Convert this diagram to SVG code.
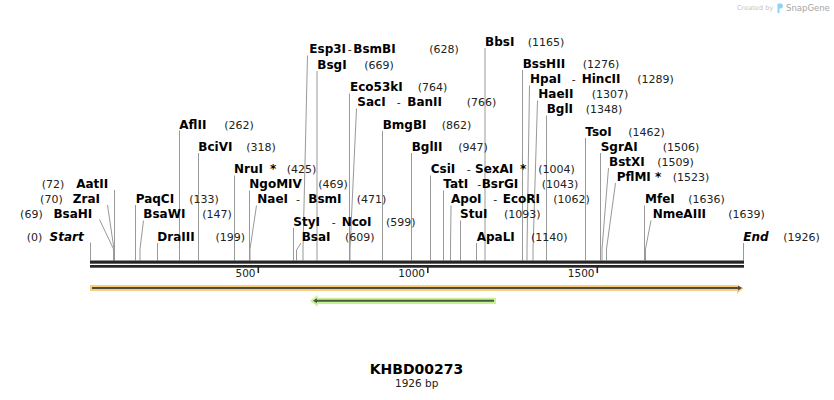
<svg xmlns="http://www.w3.org/2000/svg" width="834" height="400" viewBox="0 0 834 400">
<style>
text{font-family:"DejaVu Sans","Liberation Sans",sans-serif}
.n{font-size:12px;font-weight:bold;fill:#000}
.it{font-style:italic}
.p{font-size:11px;fill:#222}
.c{fill:none;stroke:#999;stroke-width:1}
.tk{font-size:10.5px;fill:#222}
</style>
<rect width="834" height="400" fill="#fff"/>
<g id="watermark">
<text x="737" y="10" style="font-size:6.6px;fill:#c4c4c4">Created by</text>
<path d="M777.5 3.5 h3 a2.5 2.5 0 0 1 0 5 h-1 v4.5 h-2 z" fill="#8fd2f5"/>
<text x="786" y="10.5" style="font-size:8.5px;fill:#a5a5a5">SnapGene</text>
</g>
<g id="connectors">
<path class="c" d="M90.5 242.5V260.5"/>
<path class="c" d="M99.5 219.5L113.5 249V260.5"/>
<path class="c" d="M107.5 205L114 249V260.5"/>
<path class="c" d="M114.5 190V260.5"/>
<path class="c" d="M135.5 205V260.5"/>
<path class="c" d="M143.5 220.5L140 249V260.5"/>
<path class="c" d="M157.5 243V260.5"/>
<path class="c" d="M179.5 130.5V260.5"/>
<path class="c" d="M198.5 153V260.5"/>
<path class="c" d="M234.5 175.5V260.5"/>
<path class="c" d="M249.5 190.5V260.5"/>
<path class="c" d="M256.5 205.5L250 249V260.5"/>
<path class="c" d="M293.5 228V260.5"/>
<path class="c" d="M301 243L296.5 250V260.5"/>
<path class="c" d="M307.5 55.5L303 249V260.5"/>
<path class="c" d="M317 71V260.5"/>
<path class="c" d="M349.5 93.5V260.5"/>
<path class="c" d="M356.5 108.5L350 249V260.5"/>
<path class="c" d="M382.5 131V260.5"/>
<path class="c" d="M411.5 153V260.5"/>
<path class="c" d="M430.5 175.5V260.5"/>
<path class="c" d="M443.5 190.5V260.5"/>
<path class="c" d="M451 205.5L450.5 249V260.5"/>
<path class="c" d="M460.5 220.5V260.5"/>
<path class="c" d="M476.5 243V260.5"/>
<path class="c" d="M485 48V260.5"/>
<path class="c" d="M522.5 70V260.5"/>
<path class="c" d="M529.5 85.5L527 249V260.5"/>
<path class="c" d="M537.5 100.5L533 249V260.5"/>
<path class="c" d="M546.5 115.5V260.5"/>
<path class="c" d="M585.5 138V260.5"/>
<path class="c" d="M600.5 153V260.5"/>
<path class="c" d="M608.5 168L602 249V260.5"/>
<path class="c" d="M615.5 183L606.5 249V260.5"/>
<path class="c" d="M644.5 205.5V260.5"/>
<path class="c" d="M651 220.5L645.5 249V260.5"/>
<path class="c" d="M743.5 243V260.5"/>
</g>
<g id="sequence">
<rect x="90" y="260.5" width="654" height="3.2" fill="#262626"/>
<rect x="90" y="265" width="654" height="2.7" fill="#262626"/>
<rect x="257.5" y="267" width="1.6" height="6" fill="#262626"/>
<rect x="427" y="267" width="1.6" height="6" fill="#262626"/>
<rect x="596.5" y="267" width="1.6" height="6" fill="#262626"/>
<text class="tk" x="255.5" y="277.3" text-anchor="end">500</text>
<text class="tk" x="425" y="277.3" text-anchor="end">1000</text>
<text class="tk" x="594.5" y="277.3" text-anchor="end">1500</text>
</g>
<g id="feature-forward">
<path d="M90 285H737L743.3 288L737 294V291H90Z" fill="#f9cf7f"/>
<path d="M92 288H739" stroke="#4d4a42" stroke-width="2"/>
<path d="M738 285.5L742 288L738 290.5Z" fill="#4d4a42"/>
</g>
<g id="feature-reverse">
<path d="M496 297.7H317.7V295L310 300.8L317.7 306.7V304H496Z" fill="#c4f48e"/>
<path d="M494 300.8H315" stroke="#4d5646" stroke-width="2"/>
<path d="M317 298.3L313 300.8L317 303.3Z" fill="#4d5646"/>
</g>
<g id="title">
<text x="416.5" y="374" text-anchor="middle" style="font-size:14px;font-weight:bold;fill:#000">KHBD00273</text>
<text x="416.7" y="387.3" text-anchor="middle" style="font-size:10.5px;fill:#222">1926 bp</text>
</g>
<g id="Start"><text class="p" x="42.3" y="240.7" text-anchor="end">(0)</text><text class="n it" x="83.7" y="240.7" text-anchor="end">Start</text></g>
<g id="BsaHI"><text class="p" x="42.7" y="218" text-anchor="end">(69)</text><text class="n" x="92.3" y="218" text-anchor="end">BsaHI</text></g>
<g id="ZraI"><text class="p" x="62.7" y="203" text-anchor="end">(70)</text><text class="n" x="100" y="203" text-anchor="end">ZraI</text></g>
<g id="AatII"><text class="p" x="64.3" y="188" text-anchor="end">(72)</text><text class="n" x="108.3" y="188" text-anchor="end">AatII</text></g>
<g id="PaqCI"><text class="n" x="135.7" y="203">PaqCI</text><text class="p" x="189.3" y="203">(133)</text></g>
<g id="BsaWI"><text class="n" x="143.3" y="218">BsaWI</text><text class="p" x="202.3" y="218">(147)</text></g>
<g id="DraIII"><text class="n" x="157.3" y="240.7">DraIII</text><text class="p" x="215.5" y="240.7">(199)</text></g>
<g id="AflII"><text class="n" x="179.3" y="128.5">AflII</text><text class="p" x="224.3" y="128.5">(262)</text></g>
<g id="BciVI"><text class="n" x="198.3" y="150.7">BciVI</text><text class="p" x="246.3" y="150.7">(318)</text></g>
<g id="NruI"><text class="n" x="234" y="173">NruI</text><text class="n" x="270" y="173">*</text><text class="p" x="286.7" y="173">(425)</text></g>
<g id="NgoMIV"><text class="n" x="249.3" y="188">NgoMIV</text><text class="p" x="318.3" y="188">(469)</text></g>
<g id="NaeI-BsmI"><text class="n" x="257.3" y="203">NaeI</text><text class="p" x="296" y="203">-</text><text class="n" x="308.3" y="203">BsmI</text><text class="p" x="356.7" y="203">(471)</text></g>
<g id="StyI-NcoI"><text class="n" x="293.3" y="225.7">StyI</text><text class="p" x="331.7" y="225.7">-</text><text class="n" x="341.7" y="225.7">NcoI</text><text class="p" x="386" y="225.7">(599)</text></g>
<g id="BsaI"><text class="n" x="301.7" y="240.7">BsaI</text><text class="p" x="345" y="240.7">(609)</text></g>
<g id="Esp3I-BsmBI"><text class="n" x="309.3" y="53">Esp3I</text><text class="p" x="347.7" y="53">-</text><text class="n" x="353.3" y="53">BsmBI</text><text class="p" x="429.3" y="53">(628)</text></g>
<g id="BsgI"><text class="n" x="317.3" y="68.5">BsgI</text><text class="p" x="364.3" y="68.5">(669)</text></g>
<g id="Eco53kI"><text class="n" x="350" y="91">Eco53kI</text><text class="p" x="417.7" y="91">(764)</text></g>
<g id="SacI-BanII"><text class="n" x="357.3" y="106">SacI</text><text class="p" x="396.7" y="106">-</text><text class="n" x="407.3" y="106">BanII</text><text class="p" x="466.7" y="106">(766)</text></g>
<g id="BmgBI"><text class="n" x="382.7" y="128.5">BmgBI</text><text class="p" x="441.7" y="128.5">(862)</text></g>
<g id="BglII"><text class="n" x="411.7" y="150.7">BglII</text><text class="p" x="458.3" y="150.7">(947)</text></g>
<g id="CsiI-SexAI"><text class="n" x="430.7" y="173">CsiI</text><text class="p" x="466.7" y="173">-</text><text class="n" x="475" y="173">SexAI</text><text class="n" x="520" y="173">*</text><text class="p" x="538.3" y="173">(1004)</text></g>
<g id="TatI-BsrGI"><text class="n" x="443.3" y="188">TatI</text><text class="p" x="477.3" y="188">-</text><text class="n" x="481.7" y="188">BsrGI</text><text class="p" x="541.7" y="188">(1043)</text></g>
<g id="ApoI-EcoRI"><text class="n" x="451" y="203">ApoI</text><text class="p" x="493.3" y="203">-</text><text class="n" x="502.7" y="203">EcoRI</text><text class="p" x="553.3" y="203">(1062)</text></g>
<g id="StuI"><text class="n" x="460" y="218">StuI</text><text class="p" x="504" y="218">(1093)</text></g>
<g id="ApaLI"><text class="n" x="476.7" y="240.7">ApaLI</text><text class="p" x="531" y="240.7">(1140)</text></g>
<g id="BbsI"><text class="n" x="485" y="45.7">BbsI</text><text class="p" x="527.7" y="45.7">(1165)</text></g>
<g id="BssHII"><text class="n" x="522.7" y="68">BssHII</text><text class="p" x="582.7" y="68">(1276)</text></g>
<g id="HpaI-HincII"><text class="n" x="530" y="83">HpaI</text><text class="p" x="571.7" y="83">-</text><text class="n" x="581.7" y="83">HincII</text><text class="p" x="637.3" y="83">(1289)</text></g>
<g id="HaeII"><text class="n" x="538.3" y="98">HaeII</text><text class="p" x="591.7" y="98">(1307)</text></g>
<g id="BglI"><text class="n" x="546.7" y="113.3">BglI</text><text class="p" x="585.7" y="113.3">(1348)</text></g>
<g id="TsoI"><text class="n" x="585.3" y="136">TsoI</text><text class="p" x="628.3" y="136">(1462)</text></g>
<g id="SgrAI"><text class="n" x="600.7" y="150.7">SgrAI</text><text class="p" x="662.7" y="150.7">(1506)</text></g>
<g id="BstXI"><text class="n" x="609" y="166">BstXI</text><text class="p" x="657.3" y="166">(1509)</text></g>
<g id="PflMI"><text class="n" x="616.7" y="181">PflMI</text><text class="n" x="655" y="181">*</text><text class="p" x="672.7" y="181">(1523)</text></g>
<g id="MfeI"><text class="n" x="645" y="203">MfeI</text><text class="p" x="688.3" y="203">(1636)</text></g>
<g id="NmeAIII"><text class="n" x="652.7" y="218">NmeAIII</text><text class="p" x="728.3" y="218">(1639)</text></g>
<g id="End"><text class="n it" x="743.3" y="240.7">End</text><text class="p" x="783.3" y="240.7">(1926)</text></g>
</svg>
